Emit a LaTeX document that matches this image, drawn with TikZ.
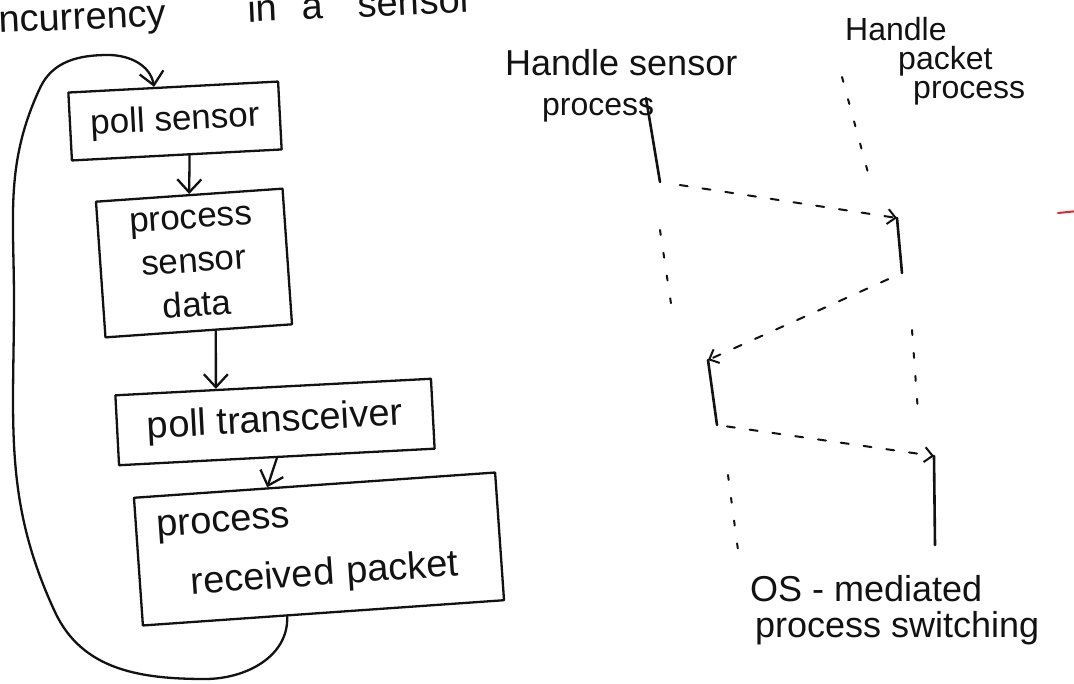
\documentclass[tikz,border=0pt]{standalone}
\usepackage{fontspec}
\setmainfont{Liberation Sans}
\usetikzlibrary{arrows.meta,calc}
\definecolor{ink}{RGB}{18,18,18}
\definecolor{penred}{RGB}{225,40,50}
\begin{document}
\begin{tikzpicture}[x=1pt,y=1pt,
  inkline/.style={draw=ink, line width=2.3pt, line cap=round, line join=round},
  flowbox/.style={inkline, rectangle, inner sep=0pt, align=center, text=ink,
    font=\fontsize{35}{44}\selectfont},
  flowarrow/.style={inkline, -{Straight Barb[length=13pt,width=24pt]}},
  lbl/.style={inner sep=0pt, align=left, text=ink, font=\fontsize{36}{40}\selectfont},
  running/.style={inkline, line width=2.6pt},
  waiting/.style={inkline, line width=2pt, dash pattern=on 5pt off 18pt},
  switch/.style={inkline, line width=2pt, dash pattern=on 8pt off 15pt,
    -{Straight Barb[length=8pt,width=15pt]}}
]
\fill[white] (0,-684) rectangle (1074,0);
\useasboundingbox (0,-684) rectangle (1074,0);

% heading, running off the top left corner
\node[lbl, anchor=base west, rotate=2.5, font=\fontsize{38}{44}\selectfont] (title) at (-49,-35)
  {Concurrency\hspace{82pt}in\hspace{25pt}a\hspace{35pt}sensor};

% ---------- polling loop ----------
\node[flowbox, minimum width=210pt, minimum height=68pt, rotate=3] (ps) at (175,-121) {poll sensor};
\node[flowbox, minimum width=187pt, minimum height=136pt, rotate=4] (psd) at (194,-263) {process\\sensor\\data};
\node[flowbox, minimum width=316pt, minimum height=70pt, rotate=3, font=\fontsize{38}{44}\selectfont] (pt) at (275,-422) {poll transceiver};
\node[flowbox, minimum width=362pt, minimum height=128pt, rotate=4, align=left, text width=320pt,
  font=\fontsize{38}{60}\selectfont] (pr) at (319,-549) {process\\\hspace*{30pt}received packet};

\draw[flowarrow] ($(ps.south west)!0.56!(ps.south east)$) -- ($(psd.north west)!0.5!(psd.north east)$);
\draw[flowarrow] ($(psd.south west)!0.59!(psd.south east)$) -- ($(pt.north west)!0.32!(pt.north east)$);
\draw[flowarrow] (pt.south) -- ($(pr.north west)!0.37!(pr.north east)$);
\draw[flowarrow] ($(pr.south west)!0.4!(pr.south east)$)
  to[out=-88,in=0] (205,-679)
  to[out=180,in=-65] (55,-612)
  to[out=115,in=-90] (14,-300)
  to[out=90,in=-115] (40,-88)
  to[out=65,in=180] (108,-55)
  to[out=0,in=100] ($(ps.north west)!0.41!(ps.north east)$);

% ---------- process-based alternative ----------
\node[lbl, anchor=north west] (hs) at (505,-49)
  {Handle sensor\\\hspace*{37pt}{\fontsize{32}{40}\selectfont process}};
\node[lbl, anchor=north west, font={\fontsize{32}{29}\selectfont\lineskiplimit=-50pt}] (hp) at (845,-17)
  {Handle\\\hspace*{53pt}packet\\\hspace*{68pt}process};
\node[lbl, anchor=north west, font=\fontsize{36}{36}\selectfont] (os) at (750,-575)
  {OS - mediated\\\hspace*{5pt}process switching};

% sensor process time line
\coordinate (s1a) at (646,-98);  \coordinate (s1b) at (660,-182);
\coordinate (s2a) at (660,-230); \coordinate (s2b) at (673,-317);
\coordinate (s3a) at (708,-360); \coordinate (s3b) at (717,-425);
\coordinate (s4a) at (728,-475); \coordinate (s4b) at (740,-565);
% packet process time line
\coordinate (p1a) at (842,-77);  \coordinate (p1b) at (870,-180);
\coordinate (p2a) at (897,-218); \coordinate (p2b) at (902,-273);
\coordinate (p3a) at (912,-330); \coordinate (p3b) at (918,-412);
\coordinate (p4a) at (934,-456); \coordinate (p4b) at (935,-545);

\draw[running] (s1a) -- (s1b);
\draw[waiting] (s2a) -- (s2b);
\draw[running] (s3a) -- (s3b);
\draw[waiting] (s4a) -- (s4b);
\draw[waiting] (p1a) -- (p1b);
\draw[running] (p2a) -- (p2b);
\draw[waiting] (p3a) -- (p3b);
\draw[running] (p4a) -- (p4b);

% switches between the two processes
\draw[switch, shorten <=20pt] (s1b) -- (p2a);
\draw[switch, shorten <=15pt] (p2b) -- (s3a);
\draw[switch, shorten <=10pt] (s3b) -- (p4a);

% red pen stroke at the right edge
\draw[penred, line width=2pt, line cap=round] (1058,-213) -- (1078,-211);
\end{tikzpicture}
\end{document}
